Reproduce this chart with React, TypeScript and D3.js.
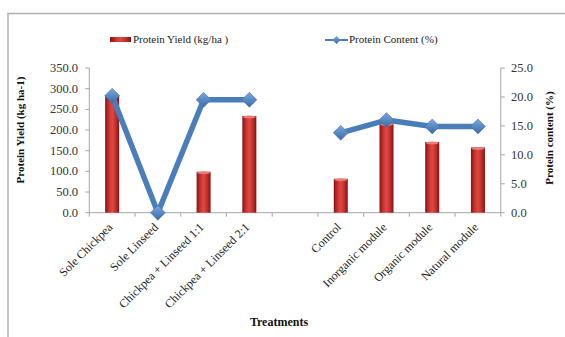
import React from "react";
import * as d3 from "d3";

const categories = [
  "Sole Chickpea",
  "Sole Linseed",
  "Chickpea + Linseed 1:1",
  "Chickpea + Linseed 2:1",
  "",
  "Control",
  "Inorganic module",
  "Organic module",
  "Natural module",
];
const proteinYield: (number | null)[] = [285, 0, 99, 234, null, 82, 216, 171, 158];
const proteinContent: (number | null)[] = [20.2, 0, 19.5, 19.5, null, 13.8, 16.0, 14.9, 14.9];
const leftTicks = [0, 50, 100, 150, 200, 250, 300, 350];
const rightTicks = [0, 5, 10, 15, 20, 25];

const W = 565;
const H = 337;
const FONT = "'Liberation Serif', 'DejaVu Serif', serif";

export default function App() {
  const x0 = 89.3;
  const x1 = 500.8;
  const yTop = 68;
  const yBot = 212.7;
  const idx = categories.map((_, i) => i);
  const x = d3.scaleBand<number>().domain(idx).range([x0, x1]).padding(0);
  const yL = d3.scaleLinear().domain([0, 350]).range([yBot, yTop]);
  const yR = d3.scaleLinear().domain([0, 25]).range([yBot, yTop]);
  const bw = 14;
  const cx = (i: number) => (x(i) as number) + x.bandwidth() / 2;

  const line = d3
    .line<number>()
    .defined((i) => proteinContent[i] !== null)
    .x((i) => cx(i))
    .y((i) => yR(proteinContent[i] as number));

  const diamond = (px: number, py: number, r: number) =>
    `M${px},${py - r}L${px + r},${py}L${px},${py + r}L${px - r},${py}Z`;

  return (
    <svg
      width={W}
      height={H}
      style={{ position: "absolute", left: 0, top: 0, background: "#fff" }}
      fontFamily={FONT}
    >
      <defs>
        <linearGradient id="barG" x1="0" x2="1" y1="0" y2="0">
          <stop offset="0%" stopColor="#851414" />
          <stop offset="30%" stopColor="#cf3632" />
          <stop offset="50%" stopColor="#df4843" />
          <stop offset="75%" stopColor="#c2302c" />
          <stop offset="100%" stopColor="#801313" />
        </linearGradient>
        <linearGradient id="dG" x1="0" x2="0" y1="0" y2="1">
          <stop offset="0%" stopColor="#7aa8dc" />
          <stop offset="100%" stopColor="#3a6aa8" />
        </linearGradient>
      </defs>
      {/* frame */}
      <rect x={8} y={13.5} width={600} height={400} fill="none" stroke="#b0b0b0" strokeWidth={1.5} />

      {/* legend */}
      <rect x={110} y={37} width={21} height={5} fill="url(#barG)" />
      <text x={133} y={43} fontSize={11} fill="#222">Protein Yield (kg/ha )</text>
      <line x1={325} x2={348} y1={40} y2={40} stroke="#4a7ebb" strokeWidth={2} />
      <path d={diamond(336.5, 40, 4)} fill="url(#dG)" />
      <text x={349} y={43} fontSize={11} fill="#222">Protein Content (%)</text>

      {/* axes */}
      <line x1={x0} x2={x0} y1={yTop} y2={yBot} stroke="#a6a6a6" />
      <line x1={x1} x2={x1} y1={yTop} y2={yBot} stroke="#a6a6a6" />
      <line x1={x0} x2={x1} y1={yBot} y2={yBot} stroke="#a6a6a6" />
      {leftTicks.map((t) => (
        <g key={"l" + t}>
          <line x1={x0 - 4} x2={x0} y1={yL(t)} y2={yL(t)} stroke="#a6a6a6" />
          <text x={78} y={yL(t) + 4} fontSize={12.5} textAnchor="end" fill="#333">
            {t.toFixed(1)}
          </text>
        </g>
      ))}
      {rightTicks.map((t) => (
        <g key={"r" + t}>
          <line x1={x1} x2={x1 + 4} y1={yR(t)} y2={yR(t)} stroke="#a6a6a6" />
          <text x={511} y={yR(t) + 4} fontSize={12.5} textAnchor="start" fill="#333">
            {t.toFixed(1)}
          </text>
        </g>
      ))}
      {d3.range(categories.length + 1).map((i) => (
        <line
          key={"xt" + i}
          x1={x0 + i * x.bandwidth()}
          x2={x0 + i * x.bandwidth()}
          y1={yBot}
          y2={yBot + 4}
          stroke="#a6a6a6"
        />
      ))}

      {/* bars */}
      {proteinYield.map((v, i) =>
        v === null || v === 0 ? null : (
          <g key={"b" + i}>
            <rect x={cx(i) - bw / 2} y={yL(v)} width={bw} height={yBot - yL(v)} fill="url(#barG)" />
            <ellipse cx={cx(i)} cy={yL(v) + 1} rx={bw / 2 - 0.5} ry={1.5} fill="#ec7a75" />
          </g>
        )
      )}

      {/* line */}
      <path d={line(idx) || ""} fill="none" stroke="#4a7ebb" strokeWidth={5.5} strokeLinejoin="round" />
      {proteinContent.map((v, i) =>
        v === null ? null : (
          <path key={"m" + i} d={diamond(cx(i), yR(v), 7.5)} fill="url(#dG)" stroke="#3d6eab" strokeWidth={0.5} />
        )
      )}

      {/* x labels */}
      {categories.map((c, i) =>
        c === "" ? null : (
          <text
            key={"xl" + i}
            transform={`translate(${cx(i) + 1},${228}) rotate(-45)`}
            textAnchor="end"
            fontSize={12}
            fill="#222"
          >
            {c}
          </text>
        )
      )}

      {/* axis titles */}
      <text
        transform={`translate(24,130) rotate(-90)`}
        textAnchor="middle"
        fontSize={11}
        fontWeight="bold"
        fill="#111"
      >
        Protein Yield (kg ha-1)
      </text>
      <text
        transform={`translate(553,138) rotate(-90)`}
        textAnchor="middle"
        fontSize={11}
        fontWeight="bold"
        fill="#111"
      >
        Protein content (%)
      </text>
      <text x={279} y={326} textAnchor="middle" fontSize={12} fontWeight="bold" fill="#111">
        Treatments
      </text>
    </svg>
  );
}
